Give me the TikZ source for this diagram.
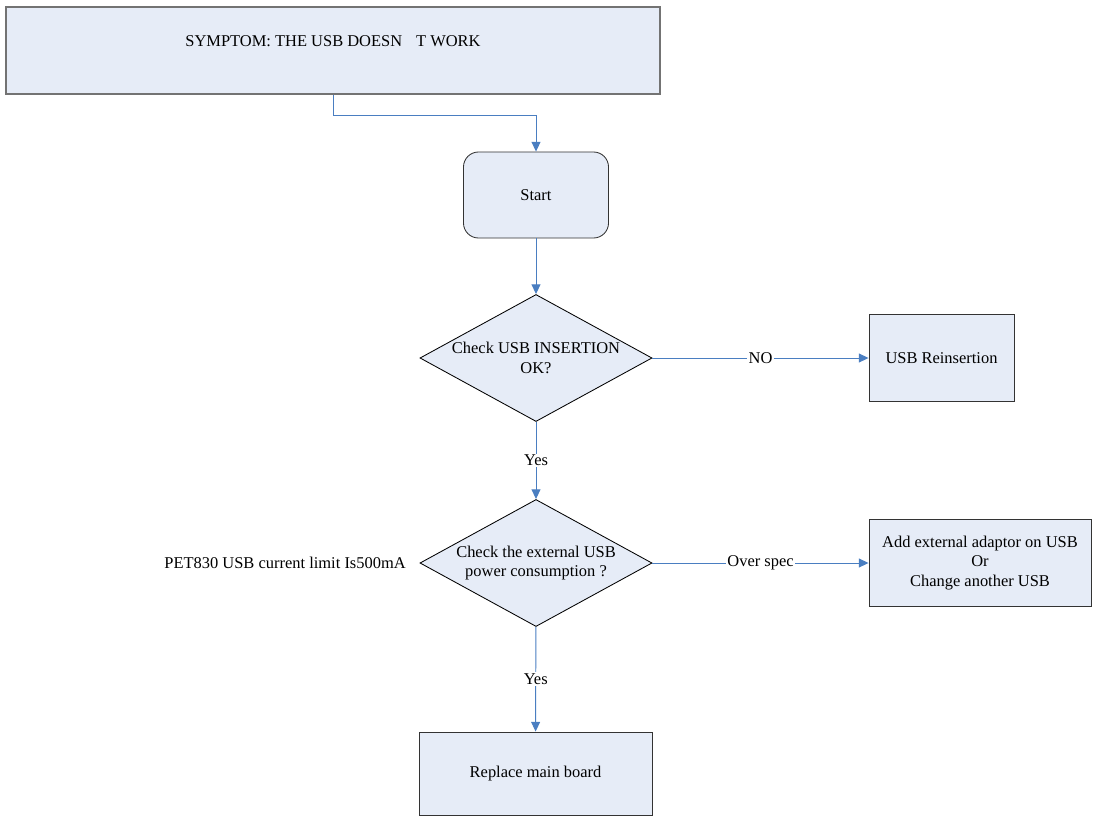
\documentclass[tikz,border=0pt]{standalone}
\usepackage{fontspec}
\setmainfont{Liberation Serif}
\usepackage{tikz}
\usetikzlibrary{arrows.meta,shapes.geometric}
\usepackage{xcolor}
\definecolor{boxfill}{RGB}{230,236,247}
\definecolor{linkblue}{RGB}{74,126,193}

\begin{document}
\begin{tikzpicture}[x=0.025cm,y=-0.025cm,>={Triangle[length=2.4mm,width=2.2mm]},
  font=\fontsize{11.7}{14}\selectfont,
  box/.style={draw=black!80,fill=boxfill,line width=0.6pt,minimum width=#1,minimum height=2.175cm,inner sep=0pt,align=center},
  decision/.style={diamond,draw=black,fill=boxfill,line width=0.6pt,minimum width=5.8cm,minimum height=3.175cm,inner sep=0pt},
  link/.style={draw=linkblue,line width=0.7pt},
  tag/.style={fill=white,inner sep=1pt}]
\useasboundingbox (0,0) rectangle (1097,816);
\node[box=16.35cm,draw=black!55,line width=1.2pt] (symptom) at (333,50.5) {\raisebox{0.24cm}[\height][\depth]{SYMPTOM: THE USB DOESN\hspace{7pt} T WORK}};
\node[box=3.625cm,rounded corners=0.375cm,minimum height=2.15cm] (start) at (536,195) {Start};
\node[decision,label={[align=center]center:Check USB INSERTION\\OK?}] (chk1) at (536,358) {};
\node[box=3.625cm] (reins) at (941.5,358) {USB Reinsertion};
\node[decision,label={[align=center]center:Check the external USB\\power consumption ?}] (chk2) at (536,563) {};
\node[box=5.55cm] (adapt) at (980,563) {Add external adaptor on USB\\Or\\Change another USB};
\node[anchor=east,inner sep=0pt] (limit) at (406,563) {PET830 USB current limit Is500mA};
\node[box=5.825cm,minimum height=2.075cm] (board) at (535.5,773.5) {Replace main board};
\draw[link,->] (symptom.south) -- ++(0,21) -| (start.north);
\draw[link,->] (start) -- (chk1);
\draw[link,->] (chk1) -- node[tag] (no) {NO} (reins);
\draw[link,->] (chk1) -- node[tag] (yes1) {Yes} (chk2);
\draw[link,->] (chk2) -- node[tag] (over) {Over spec} (adapt);
\draw[link,->] (chk2) -- node[tag] (yes2) {Yes} (board);
\end{tikzpicture}
\end{document}
